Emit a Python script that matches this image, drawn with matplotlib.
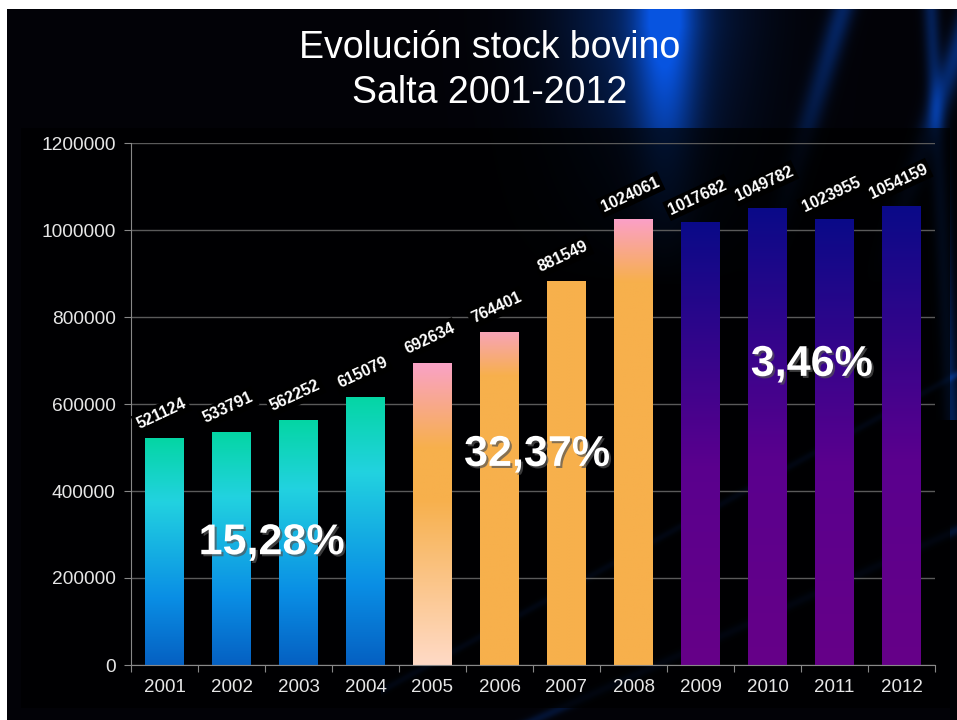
import numpy as np
import matplotlib.pyplot as plt
from matplotlib import patheffects as pe
from matplotlib.colors import LinearSegmentedColormap

plt.rcParams['font.family'] = ['Liberation Sans', 'DejaVu Sans']

years = ['2001', '2002', '2003', '2004', '2005', '2006',
         '2007', '2008', '2009', '2010', '2011', '2012']
stock = [521124, 533791, 562252, 615079, 692634, 764401,
         881549, 1024061, 1017682, 1049782, 1023955, 1054159]
rates = ['15,28%', '32,37%', '3,46%']

# gradient stops per bar (0 = bottom of the bar, 1 = top)
teal = [(0, '#0560C2'), (0.3, '#0A8FE5'), (0.72, '#22D2E0'), (1, '#04D6A4')]
purple = [(0, '#660088'), (0.45, '#5A008E'), (1, '#0A0A88')]
orange = '#F7B04C'
bar_stops = [teal, teal, teal, teal,
             [(0, '#FFDAC6'), (0.55, orange), (0.72, orange), (1, '#FAA2C6')],
             [(0, orange), (0.87, orange), (1, '#F8A4B6')],
             [(0, orange), (1, orange)],
             [(0, orange), (0.86, orange), (1, '#FBA0C6')],
             purple, purple, purple, purple]

W, H = 957, 720
fig = plt.figure(figsize=(W / 100, H / 100), dpi=100, facecolor='white')

# background slide
bg = fig.add_axes([0, 0, 1, 1], zorder=0)
bg.axis('off')
xx, yy = np.meshgrid(np.arange(W), np.arange(H))
glow = (0.8 * np.exp(-((xx - 665) / 30.0) ** 2)
        + 0.4 * np.exp(-((xx - 650) / 90.0) ** 2)
        + 0.4 * np.exp(-((xx + 0.3 * yy - 845) / 12.0) ** 2)
        + 0.55 * np.exp(-((xx + 0.35 * yy - 975) / 12.0) ** 2))
glow *= np.clip(1.1 - yy / 260.0, 0, 1)
streaks = (0.25 * np.exp(-((yy + 0.55 * xx - 900) / 4.0) ** 2)
           + 0.2 * np.exp(-((yy + 0.45 * xx - 960) / 5.0) ** 2)
           + 0.35 * np.exp(-((xx - 0.05 * yy - 930) / 8.0) ** 2) * (yy < 420))
streaks *= (xx > 380)
inten = np.clip(glow + streaks, 0, 1)
img = np.zeros((H, W, 3))
img[..., 0] = 0.01 + 0.02 * inten
img[..., 1] = 0.01 + 0.32 * inten
img[..., 2] = 0.03 + 0.85 * inten
box = (xx > 20) & (xx < 950) & (yy > 127) & (yy < 708)
img[box] *= 0.3
img[:9, :] = 1.0
img[:, :7] = 1.0
bg.imshow(img, extent=[0, 1, 0, 1], aspect='auto', origin='upper')
bg.set_xlim(0, 1)
bg.set_ylim(0, 1)

ax = fig.add_axes([131 / W, 1 - 665 / H, (935 - 131) / W, (665 - 143) / H], zorder=1)
ax.set_facecolor('none')

x = np.arange(len(years))
bars = ax.bar(x, stock, width=0.57, color='none', edgecolor='none', zorder=2)
grad = np.linspace(0, 1, 256).reshape(-1, 1)
for b, stops in zip(bars, bar_stops):
    cmap = LinearSegmentedColormap.from_list('g', stops)
    ax.imshow(grad, cmap=cmap, origin='lower', aspect='auto', zorder=2,
              extent=[b.get_x(), b.get_x() + b.get_width(), 0, b.get_height()])

for xi, v in zip(x, stock):
    ax.annotate(str(v), (xi, v), xytext=(0, 13), textcoords='offset points',
                rotation=25, rotation_mode='anchor', ha='center', va='bottom',
                fontsize=11.5, fontweight='bold', color='white', zorder=4,
                bbox=dict(facecolor='black', edgecolor='none', pad=2))

shadow = [pe.SimplePatchShadow(offset=(1.5, -1.5), shadow_rgbFace='#555555', alpha=0.7),
          pe.Normal()]
for txt, (px, py) in zip(rates, [(1.6, 280000), (5.56, 483000), (9.66, 690000)]):
    ax.text(px, py, txt, ha='center', va='center', fontsize=31, fontweight='bold',
            color='white', zorder=5, path_effects=shadow)

ax.set_xlim(-0.5, len(years) - 0.5)
ax.set_ylim(0, 1200000)
ax.set_yticks(np.arange(0, 1200001, 200000))
ax.set_yticklabels([str(t) for t in range(0, 1200001, 200000)])
ax.set_xticks(np.arange(-0.5, len(years), 1.0))
ax.set_xticklabels([])
ax.set_xticks(x, minor=True)
ax.set_xticklabels(years, minor=True)
ax.tick_params(axis='x', which='major', length=5, color='#888888', direction='out')
ax.tick_params(axis='x', which='minor', length=0, pad=10, labelsize=13.5, labelcolor='#E6E6E6')
ax.tick_params(axis='y', length=5, color='#888888', labelsize=13.8, labelcolor='#E6E6E6', pad=6)
ax.grid(axis='y', color='#5A5A5A', linewidth=1, zorder=1)
ax.set_axisbelow(True)
for s in ['top', 'right']:
    ax.spines[s].set_visible(False)
for s in ['left', 'bottom']:
    ax.spines[s].set_color('#888888')

fig.text(490 / W, 1 - 48 / H, 'Evolución stock bovino', ha='center', va='center',
         fontsize=27, color='white')
fig.text(490 / W, 1 - 93 / H, 'Salta 2001-2012', ha='center', va='center',
         fontsize=27, color='white')

fig.savefig('out.png', dpi=100, facecolor=fig.get_facecolor())
